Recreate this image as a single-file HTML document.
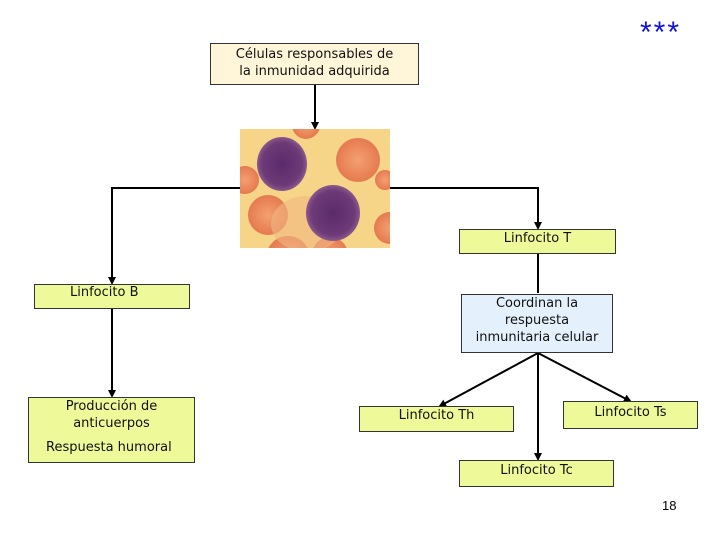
<!DOCTYPE html>
<html><head><meta charset="utf-8"><style>
body{margin:0;width:720px;height:540px;background:#fff;position:relative;overflow:hidden;font-family:"DejaVu Sans","Liberation Sans",sans-serif;}
.b{position:absolute;box-sizing:border-box;border:1px solid #333;text-align:center;font-size:13px;color:#111;}
.g{background:#eef99a;}
</style></head><body>
<svg width="720" height="540" style="position:absolute;left:0;top:0">
<defs><marker id="a" markerWidth="8" markerHeight="8" refX="6" refY="4" orient="auto" markerUnits="userSpaceOnUse"><path d="M0,0 L8,4 L0,8z" fill="#000"/></marker>
<radialGradient id="rc"><stop offset="0" stop-color="#f4a070"/><stop offset="1" stop-color="#e57a50"/></radialGradient>
<radialGradient id="ly"><stop offset="0" stop-color="#5a2a6a"/><stop offset="0.8" stop-color="#6e3a78"/><stop offset="1" stop-color="#8a5a8a"/></radialGradient>
<clipPath id="cp"><rect x="240" y="129" width="150" height="119"/></clipPath></defs>
<g stroke="#000" stroke-width="2" fill="none">
<path d="M315 85 V128" marker-end="url(#a)"/>
<path d="M240 188 H112 V283" marker-end="url(#a)"/>
<path d="M390 188 H538 V228" marker-end="url(#a)"/>
<path d="M538 254 V293"/>
<path d="M112 309 V396" marker-end="url(#a)"/>
<path d="M538 353 L440 406" marker-end="url(#a)"/>
<path d="M538 353 V459" marker-end="url(#a)"/>
<path d="M538 353 L630 401" marker-end="url(#a)"/>
</g>
<g clip-path="url(#cp)">
<rect x="240" y="129" width="150" height="119" fill="#f6d488"/>
<circle cx="358" cy="160" r="22" fill="url(#rc)"/>
<circle cx="268" cy="215" r="20" fill="url(#rc)"/>
<circle cx="288" cy="258" r="22" fill="url(#rc)"/>
<circle cx="245" cy="180" r="14" fill="url(#rc)"/>
<circle cx="390" cy="228" r="16" fill="url(#rc)"/>
<circle cx="385" cy="180" r="10" fill="url(#rc)"/>
<circle cx="330" cy="255" r="18" fill="url(#rc)"/>
<circle cx="306" cy="125" r="14" fill="url(#rc)"/>
<ellipse cx="307" cy="224" rx="36" ry="28" fill="#f2b882" opacity="0.6"/>
<ellipse cx="282" cy="164" rx="25" ry="27" fill="url(#ly)"/>
<ellipse cx="333" cy="213" rx="27" ry="28" fill="url(#ly)"/>
</g>
<text x="640" y="42" fill="#1010e0" font-size="30" font-family="Liberation Sans" letter-spacing="2">***</text>
</svg>
<div class="b" style="left:210px;top:43px;width:209px;height:42px;background:#fff5d8;line-height:17px;padding-top:2px">Células responsables de<br>la inmunidad adquirida</div>
<div class="b g" style="left:459px;top:229px;width:157px;height:25px;line-height:18px">Linfocito T</div>
<div class="b g" style="left:34px;top:284px;width:156px;height:25px;line-height:16px;text-align:left;padding-left:35px">Linfocito B</div>
<div class="b" style="left:461px;top:294px;width:152px;height:59px;background:#e4f0fc;line-height:17px;padding-top:0px">Coordinan la<br>respuesta<br>inmunitaria celular</div>
<div class="b g" style="left:28px;top:397px;width:167px;height:66px;line-height:17px;padding-top:0px">Producción de<br>anticuerpos<div style="position:absolute;left:17px;top:41px;white-space:nowrap">Respuesta humoral</div></div>
<div class="b g" style="left:359px;top:406px;width:155px;height:26px;line-height:18px">Linfocito Th</div>
<div class="b g" style="left:563px;top:401px;width:135px;height:28px;line-height:24px;line-height:22px">Linfocito Ts</div>
<div class="b g" style="left:459px;top:460px;width:155px;height:27px;line-height:20px">Linfocito Tc</div>
<div style="position:absolute;left:662px;top:498px;font-size:13px;font-family:'Liberation Sans',sans-serif">18</div>
</body></html>
